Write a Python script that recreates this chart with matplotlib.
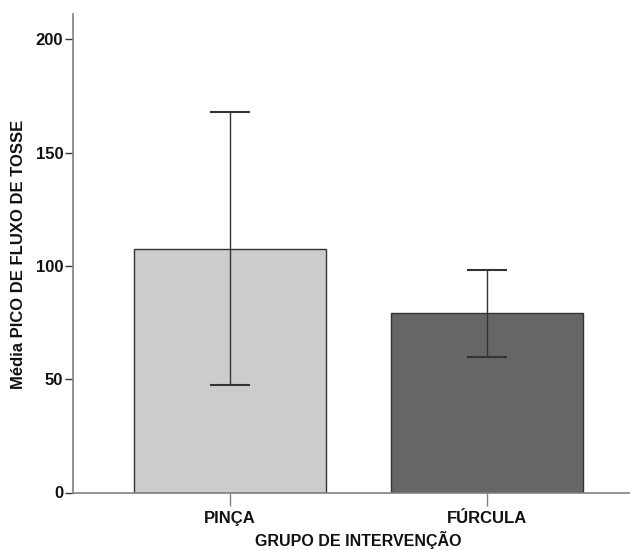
import numpy as np
import matplotlib.pyplot as plt

# grupos e valores
grupos = ['PINÇA', 'FÚRCULA']
media_pfc = [107.6, 79.3]
ic_sup = [167.9, 98.3]
ic_inf = [47.4, 59.9]
cores = ['#cccccc', '#666666']
yticks = [0, 50, 100, 150, 200]

plt.rcParams['font.family'] = ['Liberation Sans', 'DejaVu Sans']

fig = plt.figure(figsize=(6.3, 5.5), dpi=100)
ax = fig.add_axes([73 / 630, 1 - 492.5 / 550, 1 - 73 / 630, (492.5 - 14) / 550])

x = np.arange(len(grupos))
media = np.array(media_pfc)
err = [media - np.array(ic_inf), np.array(ic_sup) - media]

ax.bar(x, media, width=0.747, color=cores, edgecolor='#333333', linewidth=1.0, zorder=2)
ax.errorbar(x, media, yerr=err, fmt='none', ecolor='#333333', elinewidth=1.0,
            capsize=14.4, capthick=1.5, zorder=3)

ax.set_xlim(-0.611, 1 + (630 - 487) / 257)
ax.set_ylim(0, (492.5 - 14) / 2.266)
ax.set_xticks(x)
ax.set_xticklabels(grupos, fontsize=12, fontweight='bold', color='#111111')
ax.set_yticks(yticks)
ax.set_yticklabels([str(v) for v in yticks], fontsize=12, fontweight='bold', color='#111111')

for s in ['top', 'right']:
    ax.spines[s].set_visible(False)
for s in ['left', 'bottom']:
    ax.spines[s].set_color('#808080')
    ax.spines[s].set_linewidth(1.2)
ax.tick_params(axis='y', length=6, width=1, color='#333333', pad=1)
ax.tick_params(axis='x', length=9, width=1, color='#808080', pad=4)

fig.text(19 / 630, 1 - 254 / 550, 'Média PICO DE FLUXO DE TOSSE', rotation=90,
         ha='center', va='center', fontsize=12, fontweight='bold', color='#111111')
fig.text(358 / 630, 1 - 540 / 550, 'GRUPO DE INTERVENÇÃO',
         ha='center', va='center', fontsize=11.5, fontweight='bold', color='#111111')

fig.savefig('out.png', dpi=100)
